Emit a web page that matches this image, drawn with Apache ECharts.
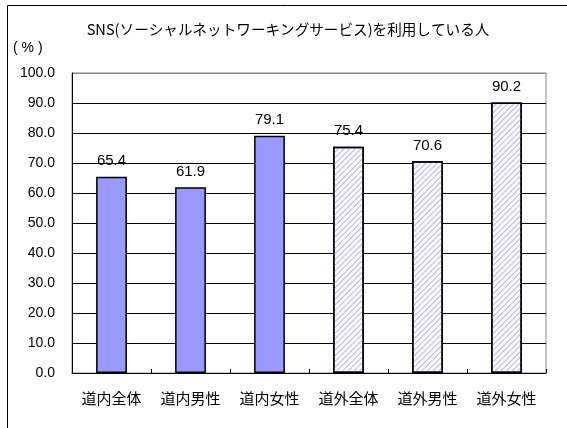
<!DOCTYPE html>
<html>
<head>
<meta charset="utf-8">
<script src="https://cdn.jsdelivr.net/npm/echarts@6/dist/echarts.min.js"></script>
<style>
    html, body { margin: 0; padding: 0; background: #fff; }
    #chart { width: 567px; height: 428px; }
</style>
</head>
<body>
<div id="chart"></div>
<script>
const categories = ["道内全体", "道内男性", "道内女性", "道外全体", "道外男性", "道外女性"]
const values = [65.4, 61.9, 79.1, 75.4, 70.6, 90.2]
// 道外 は斜線
const hatched = [false, false, false, true, true, true]

const jpFont = '"Noto Sans CJK JP", sans-serif'
const numFont = '"Liberation Sans", Arial, sans-serif'

//斜線（decal）
const hatchDecal = {
    symbol: "rect",
    color: "#b0b0ff",
    dashArrayX: [1, 0],
    dashArrayY: [0.9, 2.1],
    rotation: -Math.PI / 4
}

const chart = echarts.init(document.getElementById("chart"))

const gridColors = []
for (let i = 0; i < 10; i++) gridColors.push("#000")
gridColors.push("#888")

const option = {
    animation: false,
    graphic: [
        {
            type: "rect",
            shape: { x: 7.5, y: 5.5, width: 700, height: 600 },
            style: { fill: "none", stroke: "#000", lineWidth: 1 }
        },
        {
            type: "text",
            x: 288,
            y: 29,
            style: {
                text: "SNS(ソーシャルネットワーキングサービス)を利用している人",
                font: "14.6px " + jpFont,
                fill: "#000",
                textAlign: "center",
                textVerticalAlign: "middle"
            }
        },
        {
            type: "text",
            x: 13,
            y: 48,
            style: {
                text: "( % )",
                font: "14px " + numFont,
                fill: "#000",
                textVerticalAlign: "middle"
            }
        }
    ],
    grid: {
        left: 72,
        right: 21,
        top: 73,
        bottom: 55,
        show: true,
        borderColor: "#888",
        borderWidth: 1
    },
    xAxis: {
        type: "category",
        data: categories,
        axisLine: { lineStyle: { color: "#000", width: 1 } },
        axisTick: { show: true, inside: true, length: 4, lineStyle: { color: "#000" } },
        axisLabel: { color: "#000", fontSize: 15, fontFamily: jpFont, margin: 18 }
    },
    yAxis: {
        type: "value",
        min: 0,
        max: 100,
        interval: 10,
        axisLine: { show: true, lineStyle: { color: "#000", width: 1 } },
        axisTick: { show: false },
        splitLine: { lineStyle: { color: gridColors, width: 1 } },
        axisLabel: {
            color: "#000",
            fontSize: 14,
            fontFamily: numFont,
            margin: 17,
            formatter: (v) => v.toFixed(1)
        }
    },
    series: [
        {
            type: "bar",
            barWidth: "39%",
            data: values.map((v, i) => ({
                value: v,
                itemStyle: hatched[i] ? {
                    color: "#fff",
                    decal: hatchDecal,
                    borderColor: "#000",
                    borderWidth: 1.5
                } : {
                    color: "#9999ff",
                    borderColor: "#000",
                    borderWidth: 1.5
                }
            })),
            label: {
                show: true,
                position: "top",
                distance: 8,
                color: "#000",
                fontSize: 15,
                fontFamily: numFont,
                formatter: (p) => p.value.toFixed(1)
            }
        }
    ]
}
chart.setOption(option)
</script>
</body>
</html>
